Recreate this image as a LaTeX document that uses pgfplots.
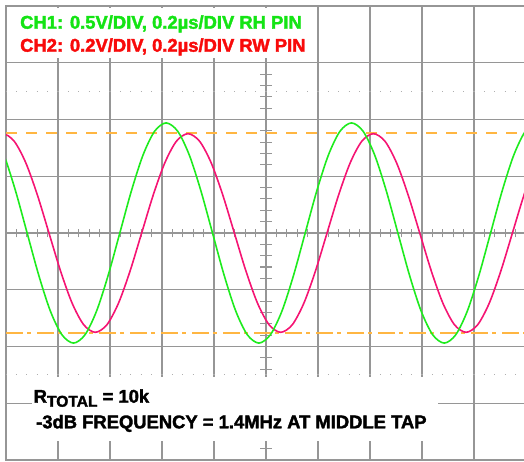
\documentclass[border=0pt]{standalone}
\usepackage{pgfplots}
\pgfplotsset{compat=1.18}
\usepackage{fontspec}
\setmainfont{Liberation Sans}
\newfontface\lsbold{Liberation Sans Bold}[FakeBold=2]
\definecolor{gridgray}{RGB}{150,150,150}
\definecolor{dotgray}{RGB}{175,175,175}
\definecolor{chgreen}{RGB}{30,235,30}
\definecolor{txtgreen}{RGB}{20,228,20}
\definecolor{chpink}{RGB}{245,20,115}
\definecolor{txtred}{RGB}{248,10,10}
\definecolor{scorange}{RGB}{255,182,66}
\begin{document}
\begin{tikzpicture}
\useasboundingbox (-6pt,-2pt) rectangle (518pt,460pt);
\clip (-6pt,-2pt) rectangle (518pt,460pt);
\begin{axis}[
  at={(0pt,0pt)}, anchor=south west,
  width=520pt, height=454pt, scale only axis,
  xmin=0, xmax=10, ymin=-4, ymax=4,
  xtick={0,...,10}, ytick={-4,...,4},
  xticklabels={}, yticklabels={},
  major tick length=0pt,
  grid=major,
  grid style={gridgray, line width=1.3pt},
  axis line style={gridgray, line width=1.3pt},
  clip=true,
]
% center line ticks
\pgfplotsinvokeforeach{0.2,0.4,0.6,0.8,1.2,1.4,1.6,1.8,2.2,2.4,2.6,2.8,3.2,3.4,3.6,3.8,4.2,4.4,4.6,4.8,5.2,5.4,5.6,5.8,6.2,6.4,6.6,6.8,7.2,7.4,7.6,7.8,8.2,8.4,8.6,8.8,9.2,9.4,9.6,9.8}{
  \draw[gridgray, line width=1.1pt] (axis cs:#1,-0.075) -- (axis cs:#1,0.075);
}
\pgfplotsinvokeforeach{-3.8,-3.6,-3.4,-3.2,-2.8,-2.6,-2.4,-2.2,-1.8,-1.6,-1.4,-1.2,-0.8,-0.6,-0.4,-0.2,0.2,0.4,0.6,0.8,1.2,1.4,1.6,1.8,2.2,2.4,2.6,2.8,3.2,3.4,3.6,3.8}{
  \draw[gridgray, line width=1.1pt] (axis cs:4.885,#1) -- (axis cs:5.115,#1);
}
% dotted lines
\draw[dotgray, line width=1.2pt, dash pattern=on 1.2pt off 9.2pt] (axis cs:-0.0115,2.5) -- (axis cs:10,2.5);
\draw[dotgray, line width=1.2pt, dash pattern=on 1.2pt off 9.2pt] (axis cs:-0.0115,-2.5) -- (axis cs:10,-2.5);
% -3dB reference lines
\addplot[scorange, line width=2pt, dash pattern=on 11pt off 9pt] coordinates {(0,1.76) (10,1.76)};
\addplot[scorange, line width=2pt, dash pattern=on 17pt off 4pt on 4pt off 6pt] coordinates {(0,-1.76) (10,-1.76)};
% CH2 (RW pin)
\addplot[chpink, line width=1.6pt, smooth] coordinates {
(-0.2878,1.617) (-0.065,1.75) (0.1578,1.617) (0.3806,1.237) (0.6034,0.670) (0.8263,0)
(1.0491,-0.670) (1.2719,-1.237) (1.4947,-1.617) (1.7175,-1.75) (1.9403,-1.617) (2.1631,-1.237)
(2.3859,-0.670) (2.6088,0) (2.8316,0.670) (3.0544,1.237) (3.2772,1.617) (3.5,1.75)
(3.7228,1.617) (3.9456,1.237) (4.1684,0.670) (4.3913,0) (4.6141,-0.670) (4.8369,-1.237)
(5.0597,-1.617) (5.2825,-1.75) (5.5053,-1.617) (5.7281,-1.237) (5.9509,-0.670) (6.1738,0)
(6.3966,0.670) (6.6194,1.237) (6.8422,1.617) (7.065,1.75) (7.2878,1.617) (7.5106,1.237)
(7.7334,0.670) (7.9563,0) (8.1791,-0.670) (8.4019,-1.237) (8.6247,-1.617) (8.8475,-1.75)
(9.0703,-1.617) (9.2931,-1.237) (9.5159,-0.670) (9.7388,0) (9.9616,0.670) (10.1844,1.237)
(10.4072,1.617)
};
% CH1 (RH pin)
\addplot[chgreen, line width=1.6pt, smooth] coordinates {
(-0.2622,1.792) (-0.0394,1.372) (0.1834,0.742) (0.4063,0) (0.6291,-0.742) (0.8519,-1.372)
(1.0747,-1.792) (1.2975,-1.94) (1.5203,-1.792) (1.7431,-1.372) (1.9659,-0.742) (2.1888,0)
(2.4116,0.742) (2.6344,1.372) (2.8572,1.792) (3.08,1.94) (3.3028,1.792) (3.5256,1.372)
(3.7484,0.742) (3.9713,0) (4.1941,-0.742) (4.4169,-1.372) (4.6397,-1.792) (4.8625,-1.94)
(5.0853,-1.792) (5.3081,-1.372) (5.5309,-0.742) (5.7538,0) (5.9766,0.742) (6.1994,1.372)
(6.4222,1.792) (6.645,1.94) (6.8678,1.792) (7.0906,1.372) (7.3134,0.742) (7.5363,0)
(7.7591,-0.742) (7.9819,-1.372) (8.2047,-1.792) (8.4275,-1.94) (8.6503,-1.792) (8.8731,-1.372)
(9.0959,-0.742) (9.3188,0) (9.5416,0.742) (9.7644,1.372) (9.9872,1.792) (10.21,1.94)
};
\end{axis}
% text boxes
\fill[white] (2pt,401.7pt) rectangle (310pt,451.7pt);
\fill[white] (26pt,18.5pt) rectangle (432pt,82.5pt);
\node[anchor=base west, inner sep=0pt, text=txtgreen, font=\lsbold\fontsize{18.4}{21}\selectfont] at (14pt,431.3pt) {CH1: 0.5V/DIV, 0.2µs/DIV RH PIN};
\node[anchor=base west, inner sep=0pt, text=txtred, font=\lsbold\fontsize{18.4}{21}\selectfont] at (14pt,408.3pt) {CH2: 0.2V/DIV, 0.2µs/DIV RW PIN};
\node[anchor=base west, inner sep=0pt, text=black, font=\lsbold\fontsize{18.4}{21}\selectfont] at (27.5pt,57.3pt) {R\raisebox{-4pt}{\fontsize{15.6}{16}\selectfont TOTAL} = 10k};
\node[anchor=base west, inner sep=0pt, text=black, font=\lsbold\fontsize{18.4}{21}\selectfont] at (30pt,31.7pt) {-3dB FREQUENCY = 1.4MHz AT MIDDLE TAP};
\end{tikzpicture}
\end{document}
